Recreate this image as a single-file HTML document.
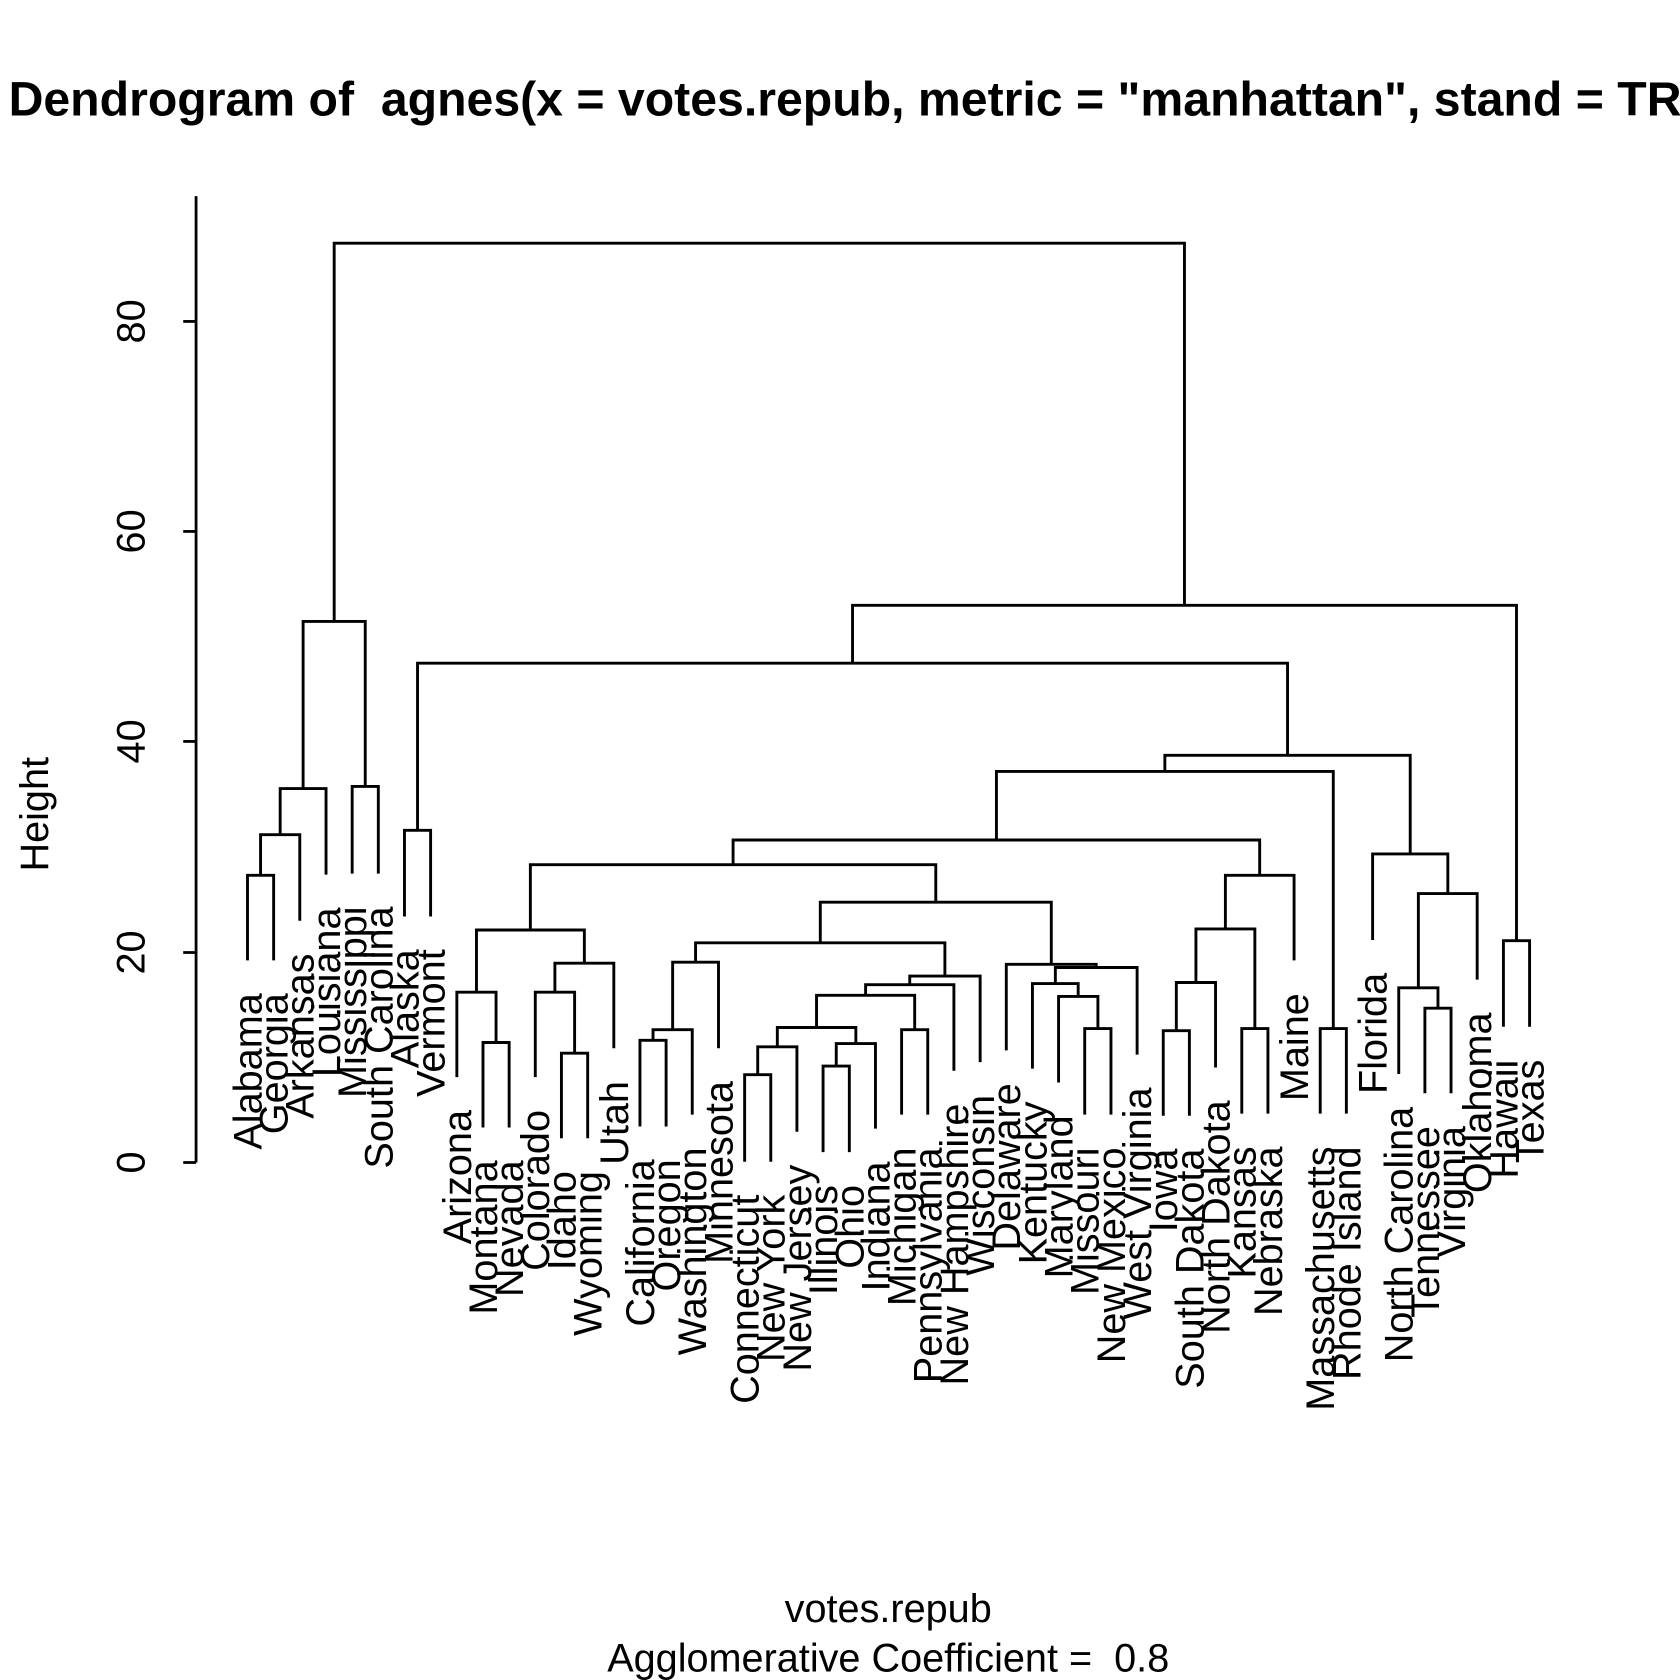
<!DOCTYPE html>
<html><head><meta charset="utf-8"><style>
html,body{margin:0;padding:0;background:#fff}
svg{display:block}
text{font-family:"Liberation Sans",Arial,sans-serif;fill:#000}
</style></head><body>
<svg id="s" xmlns="http://www.w3.org/2000/svg" width="1680" height="1680" viewBox="0 0 1568 1568">
<rect width="1568" height="1568" fill="#fff"/>
<text x="8" y="108" font-size="45" font-weight="bold" xml:space="preserve" style="white-space:pre">Dendrogram of  agnes(x = votes.repub, metric = "manhattan", stand = TRUE)</text>
<g stroke="#000" stroke-width="2.6" fill="none">
<line x1="183" y1="1085" x2="183" y2="183"/>
<line x1="171" y1="1085" x2="183" y2="1085"/>
<line x1="171" y1="889" x2="183" y2="889"/>
<line x1="171" y1="692" x2="183" y2="692"/>
<line x1="171" y1="496" x2="183" y2="496"/>
<line x1="171" y1="300" x2="183" y2="300"/>
</g>
<g font-size="37" text-anchor="middle">
<text transform="translate(135,1085) rotate(-90)">0</text>
<text transform="translate(135,889) rotate(-90)">20</text>
<text transform="translate(135,692) rotate(-90)">40</text>
<text transform="translate(135,496) rotate(-90)">60</text>
<text transform="translate(135,300) rotate(-90)">80</text>
<text transform="translate(45,760) rotate(-90)">Height</text>
<text x="829" y="1514">votes.repub</text>
<text x="829" y="1560" xml:space="preserve" style="white-space:pre">Agglomerative Coefficient =  0.8</text>
</g>
<g id="tree" stroke="#000" stroke-width="2.7" fill="none" stroke-linecap="square"></g>
<g id="labs" font-size="37" text-anchor="end"></g>
<script>
(function(){
var names=["Alabama","Georgia","Arkansas","Louisiana","Mississippi","South Carolina","Alaska","Vermont","Arizona","Montana","Nevada","Colorado","Idaho","Wyoming","Utah","California","Oregon","Washington","Minnesota","Connecticut","New York","New Jersey","Illinois","Ohio","Indiana","Michigan","Pennsylvania","New Hampshire","Wisconsin","Delaware","Kentucky","Maryland","Missouri","New Mexico","West Virginia","Iowa","South Dakota","North Dakota","Kansas","Nebraska","Maine","Massachusetts","Rhode Island","Florida","North Carolina","Tennessee","Virginia","Oklahoma","Hawaii","Texas"];
var bottoms=[895,895,858,815,814,814,854,854,1004,1051,1051,1004,1061,1061,977,1050,1050,1039,977,1083,1083,1055,1074,1074,1052,1039,1039,998,990,979,996,1009,1039,1039,983,1040,1040,995,1038,1038,895,1038,1038,876,1001,1019,1019,913,957,957];
var N={};
var labs=document.getElementById("labs");
names.forEach(function(n,i){var x=231+i*24.42;N[n]={x:x,y:bottoms[i]};});
var merges=[
["AG","Alabama","Georgia",817],["AGA","AG","Arkansas",779],["AGAL","AGA","Louisiana",736],
["MS","Mississippi","South Carolina",734],["South","AGAL","MS",580],["AV","Alaska","Vermont",775],
["MN","Montana","Nevada",973],["AZ","Arizona","MN",926],["IW","Idaho","Wyoming",983],
["CIW","Colorado","IW",926],["CIWU","CIW","Utah",899],["West","AZ","CIWU",868],
["CO","California","Oregon",971],["COW","CO","Washington",961],["COWM","COW","Minnesota",898],
["CNY","Connecticut","New York",1003],["CNYJ","CNY","New Jersey",977],["IO","Illinois","Ohio",995],
["IOI","IO","Indiana",974],["NE1","CNYJ","IOI",959],["MP","Michigan","Pennsylvania",961],
["NE2","NE1","MP",929],["NE3","NE2","New Hampshire",919],["NE4","NE3","Wisconsin",911],
["MidA","COWM","NE4",880],["MMN","Missouri","New Mexico",960],["MMMN","Maryland","MMN",930],
["KM","Kentucky","MMMN",918],["KMW","KM","West Virginia",903],["DK","Delaware","KMW",900],
["MidB","MidA","DK",842],["Big1","West","MidB",807],["IS","Iowa","South Dakota",962],
["ISN","IS","North Dakota",917],["KN","Kansas","Nebraska",960],["Plains","ISN","KN",867],
["PlainsM","Plains","Maine",817],["Big2","Big1","PlainsM",784],["MR","Massachusetts","Rhode Island",960],
["Big3","Big2","MR",720],["TV","Tennessee","Virginia",941],["NCTV","North Carolina","TV",922],
["NCTVO","NCTV","Oklahoma",834],["FL","Florida","NCTVO",797],["Big4","Big3","FL",705],
["AVBig","AV","Big4",619],["HT","Hawaii","Texas",878],["Right","AVBig","HT",565],
["Root","South","Right",227]];
var d="";
merges.forEach(function(m){
 var a=N[m[1]],b=N[m[2]],y=m[3];
 d+="M"+a.x.toFixed(1)+" "+a.y+"V"+y+"H"+b.x.toFixed(1)+"V"+b.y;
 N[m[0]]={x:(a.x+b.x)/2,y:y};
});
var p=document.createElementNS("http://www.w3.org/2000/svg","path");
p.setAttribute("d",d);
document.getElementById("tree").appendChild(p);
})();
</script>
<g font-size="37" text-anchor="end">
<text transform="translate(244.0,927) rotate(-90)">Alabama</text>
<text transform="translate(268.4,927) rotate(-90)">Georgia</text>
<text transform="translate(292.8,890) rotate(-90)">Arkansas</text>
<text transform="translate(317.3,847) rotate(-90)">Louisiana</text>
<text transform="translate(341.7,846) rotate(-90)">Mississippi</text>
<text transform="translate(366.1,846) rotate(-90)">South Carolina</text>
<text transform="translate(390.5,886) rotate(-90)">Alaska</text>
<text transform="translate(414.9,886) rotate(-90)">Vermont</text>
<text transform="translate(439.4,1036) rotate(-90)">Arizona</text>
<text transform="translate(463.8,1083) rotate(-90)">Montana</text>
<text transform="translate(488.2,1083) rotate(-90)">Nevada</text>
<text transform="translate(512.6,1036) rotate(-90)">Colorado</text>
<text transform="translate(537.0,1093) rotate(-90)">Idaho</text>
<text transform="translate(561.5,1093) rotate(-90)">Wyoming</text>
<text transform="translate(585.9,1009) rotate(-90)">Utah</text>
<text transform="translate(610.3,1082) rotate(-90)">California</text>
<text transform="translate(634.7,1082) rotate(-90)">Oregon</text>
<text transform="translate(659.1,1071) rotate(-90)">Washington</text>
<text transform="translate(683.6,1009) rotate(-90)">Minnesota</text>
<text transform="translate(708.0,1115) rotate(-90)">Connecticut</text>
<text transform="translate(732.4,1115) rotate(-90)">New York</text>
<text transform="translate(756.8,1087) rotate(-90)">New Jersey</text>
<text transform="translate(781.2,1106) rotate(-90)">Illinois</text>
<text transform="translate(805.7,1106) rotate(-90)">Ohio</text>
<text transform="translate(830.1,1084) rotate(-90)">Indiana</text>
<text transform="translate(854.5,1071) rotate(-90)">Michigan</text>
<text transform="translate(878.9,1071) rotate(-90)">Pennsylvania</text>
<text transform="translate(903.3,1030) rotate(-90)">New Hampshire</text>
<text transform="translate(927.8,1022) rotate(-90)">Wisconsin</text>
<text transform="translate(952.2,1011) rotate(-90)">Delaware</text>
<text transform="translate(976.6,1028) rotate(-90)">Kentucky</text>
<text transform="translate(1001.0,1041) rotate(-90)">Maryland</text>
<text transform="translate(1025.4,1071) rotate(-90)">Missouri</text>
<text transform="translate(1049.9,1071) rotate(-90)">New Mexico</text>
<text transform="translate(1074.3,1015) rotate(-90)">West Virginia</text>
<text transform="translate(1098.7,1072) rotate(-90)">Iowa</text>
<text transform="translate(1123.1,1072) rotate(-90)">South Dakota</text>
<text transform="translate(1147.5,1027) rotate(-90)">North Dakota</text>
<text transform="translate(1172.0,1070) rotate(-90)">Kansas</text>
<text transform="translate(1196.4,1070) rotate(-90)">Nebraska</text>
<text transform="translate(1220.8,927) rotate(-90)">Maine</text>
<text transform="translate(1245.2,1070) rotate(-90)">Massachusetts</text>
<text transform="translate(1269.6,1070) rotate(-90)">Rhode Island</text>
<text transform="translate(1294.1,908) rotate(-90)">Florida</text>
<text transform="translate(1318.5,1033) rotate(-90)">North Carolina</text>
<text transform="translate(1342.9,1051) rotate(-90)">Tennessee</text>
<text transform="translate(1367.3,1051) rotate(-90)">Virginia</text>
<text transform="translate(1391.7,945) rotate(-90)">Oklahoma</text>
<text transform="translate(1416.2,989) rotate(-90)">Hawaii</text>
<text transform="translate(1440.6,989) rotate(-90)">Texas</text>
</g>
</svg>
</body></html>
